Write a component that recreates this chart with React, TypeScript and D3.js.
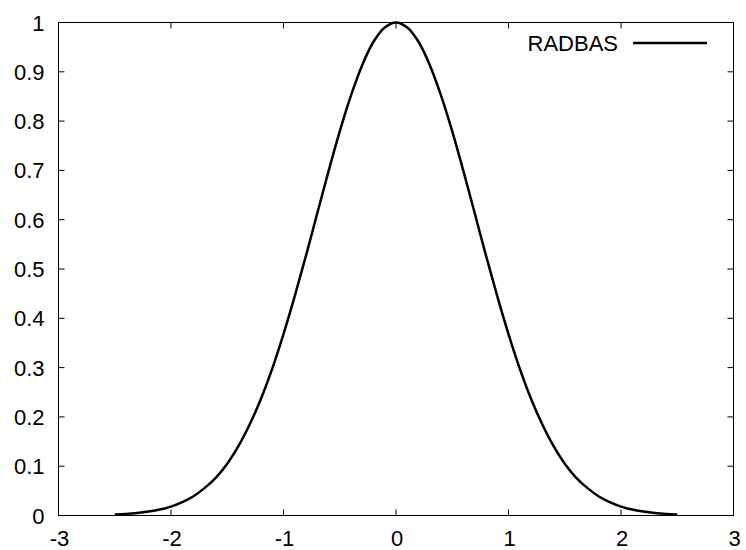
import React from "react";
import * as d3 from "d3";

// RADBAS transfer function samples
const xValues = [
  -2.5, -2.4, -2.3, -2.2, -2.1, -2.0, -1.9, -1.8, -1.7, -1.6, -1.5, -1.4, -1.3,
  -1.2, -1.1, -1.0, -0.9, -0.8, -0.7, -0.6, -0.5, -0.4, -0.3, -0.2, -0.1, 0.0,
  0.1, 0.2, 0.3, 0.4, 0.5, 0.6, 0.7, 0.8, 0.9, 1.0, 1.1, 1.2, 1.3, 1.4, 1.5,
  1.6, 1.7, 1.8, 1.9, 2.0, 2.1, 2.2, 2.3, 2.4, 2.5,
];
const yValues = [
  0.002, 0.003, 0.005, 0.008, 0.012, 0.018, 0.027, 0.039, 0.056, 0.077, 0.105,
  0.141, 0.185, 0.237, 0.298, 0.368, 0.445, 0.527, 0.613, 0.698, 0.779, 0.852,
  0.914, 0.961, 0.99, 1.0, 0.99, 0.961, 0.914, 0.852, 0.779, 0.698, 0.613,
  0.527, 0.445, 0.368, 0.298, 0.237, 0.185, 0.141, 0.105, 0.077, 0.056, 0.039,
  0.027, 0.018, 0.012, 0.008, 0.005, 0.003, 0.002,
];
const xTicks = [-3, -2, -1, 0, 1, 2, 3];
const yTicks = [0, 0.1, 0.2, 0.3, 0.4, 0.5, 0.6, 0.7, 0.8, 0.9, 1];
const seriesName = "RADBAS";

const W = 746;
const H = 550;
const left = 58.5;
const right = 733.5;
const top = 22.5;
const bottom = 515.5;
const tickLen = 6;
const fontSize = 22;
const font = "'Liberation Sans', Arial, sans-serif";

export default function App() {
  const x = d3.scaleLinear().domain([-3, 3]).range([left, right]);
  const y = d3.scaleLinear().domain([0, 1]).range([bottom, top]);
  const points: [number, number][] = xValues.map((v, i) => [v, yValues[i]]);
  const line = d3
    .line<[number, number]>()
    .x((d) => x(d[0]))
    .y((d) => y(d[1]))
    .curve(d3.curveCatmullRom);

  return (
    <svg
      width={W}
      height={H}
      style={{ position: "absolute", left: 0, top: 0, background: "#fff" }}
    >
      <rect x={0} y={0} width={W} height={H} fill="#fff" />
      {/* frame */}
      <rect
        x={left}
        y={top}
        width={right - left}
        height={bottom - top}
        fill="none"
        stroke="#000"
        strokeWidth={1}
      />
      {/* x ticks, mirrored on top */}
      {xTicks.map((t) => (
        <g key={"x" + t}>
          <line x1={x(t)} x2={x(t)} y1={bottom} y2={bottom - tickLen} stroke="#000" />
          <line x1={x(t)} x2={x(t)} y1={top} y2={top + tickLen} stroke="#000" />
          <text
            x={x(t) + 1}
            y={545.5}
            textAnchor="middle"
            fontFamily={font}
            fontSize={fontSize}
            fill="#000"
          >
            {t}
          </text>
        </g>
      ))}
      {/* y ticks, mirrored on right */}
      {yTicks.map((t) => (
        <g key={"y" + t}>
          <line x1={left} x2={left + tickLen} y1={y(t)} y2={y(t)} stroke="#000" />
          <line x1={right} x2={right - tickLen} y1={y(t)} y2={y(t)} stroke="#000" />
          <text
            x={44.5}
            y={y(t) + 8}
            textAnchor="end"
            fontFamily={font}
            fontSize={fontSize}
            fill="#000"
          >
            {d3.format("~g")(t)}
          </text>
        </g>
      ))}
      {/* curve */}
      <path
        d={line(points) ?? ""}
        fill="none"
        stroke="#000"
        strokeWidth={2.5}
        strokeLinejoin="round"
      />
      {/* legend */}
      <text
        x={618}
        y={51}
        textAnchor="end"
        fontFamily={font}
        fontSize={fontSize}
        fill="#000"
      >
        {seriesName}
      </text>
      <line x1={633} x2={707} y1={43} y2={43} stroke="#000" strokeWidth={2.5} />
    </svg>
  );
}
